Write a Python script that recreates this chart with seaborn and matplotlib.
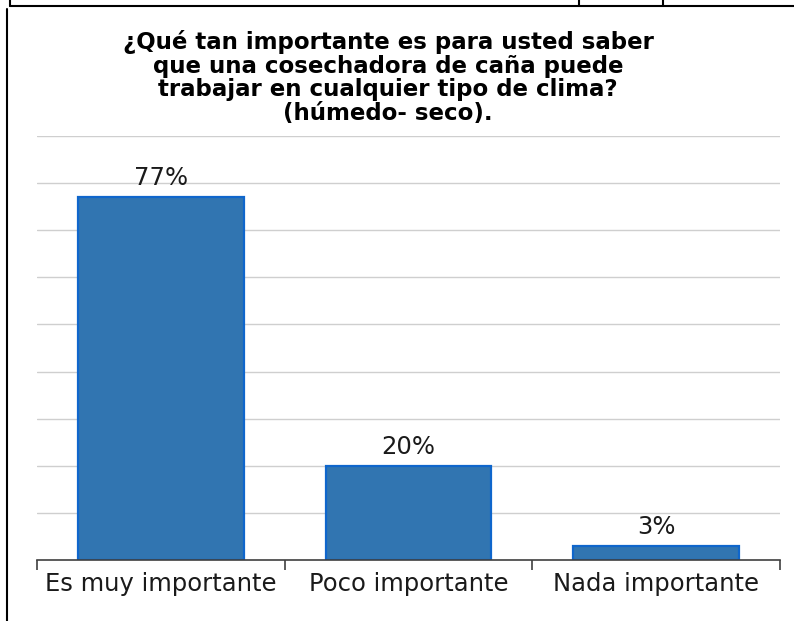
import matplotlib
matplotlib.use("Agg")
import matplotlib.pyplot as plt
from matplotlib.lines import Line2D
import seaborn as sns
import numpy as np

# Survey answers and their shares
categories = ["Es muy importante", "Poco importante", "Nada importante"]
shares = [0.77, 0.20, 0.03]
share_labels = ["77%", "20%", "3%"]

title_lines = [
    "¿Qué tan importante es para usted saber",
    "que una cosechadora de caña puede",
    "trabajar en cualquier tipo de clima?",
    "(húmedo- seco).",
]

sns.set_theme(style="white")
plt.rcParams["font.family"] = ["DejaVu Sans"]

W, H = 794, 621
fig = plt.figure(figsize=(W / 100, H / 100), dpi=100)
fig.patch.set_facecolor("white")

ax = fig.add_axes([37 / W, 1 - 560 / H, (780 - 37) / W, (560 - 136) / H])
ax.set_facecolor("white")

sns.barplot(x=categories, y=shares, ax=ax, color="#3175B1", saturation=1,
            width=0.67, edgecolor="#0F66CC", linewidth=1.6, zorder=3)

ax.set_ylim(0, 0.9)
ax.set_xlim(-0.5, len(categories) - 0.5)
ax.set_yticks(np.arange(0.1, 0.91, 0.1))
ax.yaxis.grid(True, color="#CFCFCF", linewidth=1.0, zorder=0)
ax.tick_params(axis="y", left=False, labelleft=False)

for side in ["left", "right", "top"]:
    ax.spines[side].set_visible(False)
ax.spines["bottom"].set_color("#404040")
ax.spines["bottom"].set_linewidth(1.2)
ax.spines["bottom"].set_zorder(4)

# Category dividers below the axis
ax.set_xticks(np.arange(-0.5, len(categories), 1.0), minor=True)
ax.tick_params(axis="x", which="minor", length=7, width=1.2, color="#404040",
               direction="out", bottom=True)
ax.tick_params(axis="x", which="major", length=0, pad=9, labelsize=17.5,
               labelcolor="#1a1a1a")
ax.set_xlabel("")
ax.set_ylabel("")

for i, (v, lab) in enumerate(zip(shares, share_labels)):
    ax.annotate(lab, xy=(i, v), xytext=(0, 5), textcoords="offset points",
                ha="center", va="bottom", fontsize=17.5, color="#1a1a1a")

# Title, one baseline per line
for k, line in enumerate(title_lines):
    fig.text(388 / W, 1 - (49 + 23.7 * k) / H, line, ha="center",
             va="baseline", fontsize=16.5, fontweight="bold", color="black")

# Frame lines around the chart
def px_line(x0, y0, x1, y1, lw=1.5):
    fig.add_artist(Line2D([x0 / W, x1 / W], [1 - y0 / H, 1 - y1 / H],
                          transform=fig.transFigure, color="black",
                          linewidth=lw))

px_line(10, 6, W, 6)
px_line(10, 0, 10, 6)
px_line(579, 0, 579, 6)
px_line(663, 0, 663, 6)
px_line(7, 9, 7, H)

fig.savefig("out.png", dpi=100, facecolor="white")
